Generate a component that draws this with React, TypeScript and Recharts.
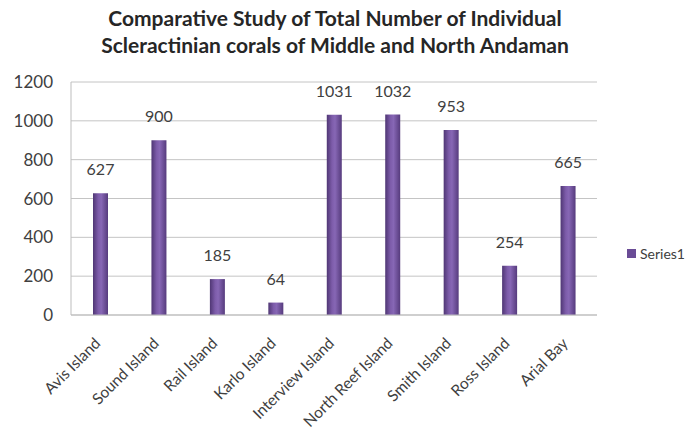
import React from "react";
import { BarChart, Bar, XAxis, YAxis, CartesianGrid, LabelList } from "recharts";

const islands = [
  "Avis Island",
  "Sound Island",
  "Rail Island",
  "Karlo Island",
  "Interview Island",
  "North Reef Island",
  "Smith Island",
  "Ross Island",
  "Arial Bay",
];
const series1 = [627, 900, 185, 64, 1031, 1032, 953, 254, 665];
const yTicks = [0, 200, 400, 600, 800, 1000, 1200];

const data = islands.map((name, i) => ({ name, value: series1[i] }));

const FONT = "Lato, 'Open Sans', sans-serif";
const TEXT = "#404040";

const IslandTick = (props: any) => {
  const { x, y, payload } = props;
  return (
    <g transform={`translate(${x - 3},${y + 17})`}>
      <text
        transform="rotate(-45)"
        textAnchor="end"
        dominantBaseline="central"
        fill={TEXT}
        fontSize={15.5}
        fontFamily={FONT}
      >
        {payload.value}
      </text>
    </g>
  );
};

export default function App() {
  return (
    <div style={{ position: "absolute", left: 0, top: 0, width: 699, height: 435, background: "#fff" }}>
      <div
        style={{
          position: "absolute",
          left: 0,
          top: 4,
          width: 670,
          textAlign: "center",
          fontFamily: FONT,
          fontWeight: "bold",
          fontSize: 21,
          lineHeight: "27px",
          color: "#262626",
        }}
      >
        Comparative Study of Total Number of Individual
        <br />
        Scleractinian corals of Middle and North Andaman
      </div>
      <BarChart
        width={699}
        height={435}
        data={data}
        margin={{ top: 82, right: 102, left: 0, bottom: 0 }}
      >
        <defs>
          <linearGradient id="barGrad" x1="0" y1="0" x2="1" y2="0">
            <stop offset="0%" stopColor="#4f3674" />
            <stop offset="35%" stopColor="#7d5caa" />
            <stop offset="55%" stopColor="#8767b5" />
            <stop offset="100%" stopColor="#563b7d" />
          </linearGradient>
        </defs>
        <CartesianGrid vertical={false} stroke="#c4c4c4" />
        <XAxis
          dataKey="name"
          interval={0}
          height={120}
          tickLine={false}
          axisLine={{ stroke: "#bdbdbd" }}
          tick={<IslandTick />}
        />
        <YAxis
          width={71}
          domain={[0, 1200]}
          ticks={yTicks}
          tickLine={false}
          tickSize={0}
          tickMargin={18}
          axisLine={{ stroke: "#bdbdbd" }}
          tick={{ fill: TEXT, fontSize: 17, fontFamily: FONT }}
        />
        <Bar dataKey="value" fill="url(#barGrad)" barSize={15} isAnimationActive={false}>
          <LabelList
            dataKey="value"
            position="top"
            offset={18}
            fill={TEXT}
            fontSize={16}
            fontFamily={FONT}
          />
        </Bar>
      </BarChart>
      <div
        style={{
          position: "absolute",
          left: 627,
          top: 245,
          display: "flex",
          alignItems: "center",
          fontFamily: FONT,
          fontSize: 14,
          color: TEXT,
        }}
      >
        <span style={{ display: "inline-block", width: 9, height: 9, background: "#6a4c96", marginRight: 4 }} />
        Series1
      </div>
    </div>
  );
}
